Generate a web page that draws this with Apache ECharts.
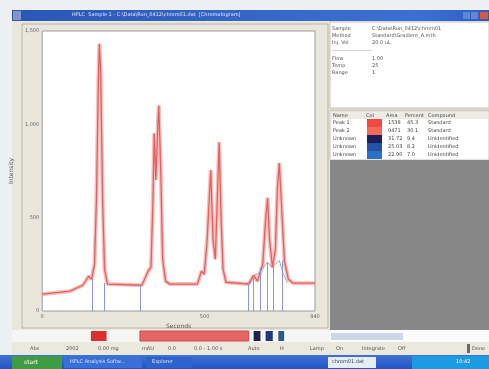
<!DOCTYPE html>
<html>
<head>
<meta charset="utf-8">
<script src="https://cdn.jsdelivr.net/npm/echarts@6/dist/echarts.min.js"></script>
<style>
  html, body { margin: 0; padding: 0; background: #e9e6dc; }
  #chart { width: 489px; height: 369px; }
</style>
</head>
<body>
<div id="chart"></div>
<script>
// retention time (s) and detector response of the main trace
const RED_T = [0, 85, 125, 143, 152, 161, 167, 173, 176, 180, 186, 192, 201, 307, 326, 335, 341, 345, 350, 356,
  359, 365, 371, 380, 393, 478, 490, 499, 508, 519, 526, 533, 539, 545, 551, 557, 566, 636, 651, 663,
  679, 688, 694, 700, 709, 718, 724, 730, 736, 746, 758, 773, 840]
const RED_V = [90, 106, 138, 186, 170, 250, 596, 1234, 1431, 1287, 596, 223, 144, 138, 213, 234, 596, 952, 702, 995,
  1101, 755, 277, 160, 144, 144, 213, 197, 383, 755, 383, 277, 596, 904, 489, 223, 154, 144, 191, 160,
  250, 489, 606, 383, 234, 330, 649, 793, 596, 266, 170, 149, 149]

// secondary (blue) trace around the last peak group
const BLUE_T = [625, 640, 651, 665, 680, 694, 705, 718, 730, 742, 755]
const BLUE_V = [140, 160, 190, 200, 230, 262, 235, 250, 272, 200, 150]

// integration drop lines
const DROP_T = [155, 192, 301, 633, 651, 672, 694, 712, 739]
const DROP_TOP = [170, 150, 140, 150, 190, 230, 260, 240, 270]

// peak-window strip under the plot: [start, end]
const WINDOWS = [[150, 198], [301, 636], [651, 672], [688, 710], [727, 745]]
const WINDOW_COLORS = ['#e02c2c', '#e86464', '#1c2250', '#20387e', '#2c5c8e']

// peak table
const TABLE_NAMES = ['Peak 1', 'Peak 2', 'Unknown', 'Unknown', 'Unknown']
const TABLE_AREA = ['1538', '9471', '31.72', '25.03', '22.90']
const TABLE_PCT = ['45.3', '30.1', '9.4', '8.2', '7.0']
const TABLE_COLORS = ['#f04a40', '#f26a5a', '#1a1f5c', '#2352a6', '#2f70c4']

const X_MIN = 0
const X_MAX = 840
const Y_MAX = 1500

const chart = echarts.init(document.getElementById('chart'))

const redData = RED_T.map((t, i) => [t, RED_V[i]])
const blueData = BLUE_T.map((t, i) => [t, BLUE_V[i]])
const drops = DROP_T.map((t, i) => [{ coord: [t, 0] }, { coord: [t, DROP_TOP[i]] }])

const FONT = 'DejaVu Sans'
const tiny = (x, y, text, color, size) => ({
  type: 'text', left: x, top: y, z: 20, silent: true,
  style: { text, fill: color || '#6a6a6a', fontSize: size || 5, fontFamily: FONT }
})
const box = (x, y, w, h, fill, z, stroke) => ({
  type: 'rect', z: z === undefined ? -5 : z, silent: true,
  shape: { x, y, width: w, height: h },
  style: { fill, stroke: stroke || null, lineWidth: stroke ? 1 : 0 }
})

const chrome = [
  // desktop + window body
  box(0, 0, 489, 369, '#eef1f3', -10),
  box(12, 10, 477, 347, '#e9e6dc', -9),
  // title bar
  {
    type: 'rect', z: -8, silent: true,
    shape: { x: 12, y: 10, width: 477, height: 11 },
    style: {
      fill: new echarts.graphic.LinearGradient(0, 0, 1, 0, [
        { offset: 0, color: '#2a57b8' }, { offset: 0.85, color: '#3d70d4' }, { offset: 1, color: '#2b5cc4' }
      ])
    }
  },
  box(13, 11, 8, 9, '#7f98c8', -7),
  box(463, 12, 7, 7, '#5f86d8', -7),
  box(471, 12, 7, 7, '#5f86d8', -7),
  box(480, 12, 8, 7, '#d9583a', -7),
  tiny(72, 12.5, 'HPLC  Sample 1 - C:\\Data\\Run_0412\\chrom01.dat  [Chromatogram]', '#dfe7f7', 5),
  // plot panel frame
  box(22, 24, 306, 304, '#e9e6dc', -6, '#b9b4a6'),
  // right info panel
  box(330, 22, 159, 86, '#ffffff', -6, '#c9c5b8'),
  tiny(332, 26, 'Sample', '#555'), tiny(372, 26, 'C:\\Data\\Run_0412\\chrom01', '#555'),
  tiny(332, 33, 'Method', '#555'), tiny(372, 33, 'Standard\\Gradient_A.mth', '#555'),
  tiny(332, 40, 'Inj. Vol', '#555'), tiny(372, 40, '20.0 uL', '#555'),
  box(332, 50, 40, 0.6, '#b0b0b0', -4),
  tiny(332, 56, 'Flow', '#555'), tiny(372, 56, '1.00', '#555'),
  tiny(332, 63, 'Temp', '#555'), tiny(372, 63, '25', '#555'),
  tiny(332, 70, 'Range', '#555'), tiny(372, 70, '1', '#555'),
  box(330, 108, 159, 3, '#d8d4c8', -6),
  // peak table
  box(330, 111, 159, 49, '#ffffff', -6, '#c9c5b8'),
  box(331, 112, 157, 7, '#ecebe6', -5),
  tiny(333, 113, 'Name', '#444'), tiny(366, 113, 'Col', '#444'), tiny(386, 113, 'Area', '#444'),
  tiny(405, 113, 'Percent', '#444'), tiny(428, 113, 'Compound', '#444'),
  // grey empty panel
  box(330, 160, 159, 170, '#878787', -6),
  // strip under the plot
  box(12, 330, 318, 12, '#f6f6f4', -6),
  box(330, 330, 159, 12, '#fbfbfb', -6),
  box(331, 333, 72, 7, '#cdd7e8', -5),
  // toolbar
  box(12, 342, 477, 13, '#ebe8de', -6),
  tiny(30, 346, 'Abs', '#555'), tiny(66, 346, '2002', '#555'), tiny(98, 346, '0.00 mg', '#555'),
  tiny(142, 346, 'mAU', '#555'), tiny(168, 346, '0.0', '#555'), tiny(194, 346, '0.0 - 1.00 s', '#555'),
  tiny(248, 346, 'Auto', '#555'), tiny(280, 346, 'H', '#555'), tiny(310, 346, 'Lamp', '#555'),
  tiny(336, 346, 'On', '#555'), tiny(362, 346, 'Integrate', '#555'), tiny(398, 346, 'Off', '#555'),
  box(467, 344, 3, 9, '#6a6a6a', -5), tiny(472, 346, 'Done', '#555'),
  // taskbar
  {
    type: 'rect', z: -6, silent: true,
    shape: { x: 0, y: 355, width: 489, height: 14 },
    style: {
      fill: new echarts.graphic.LinearGradient(0, 0, 0, 1, [
        { offset: 0, color: '#3d74d8' }, { offset: 1, color: '#2453c0' }
      ])
    }
  },
  box(12, 356, 50, 13, '#3f9c45', -5),
  tiny(24, 359, 'start', '#ffffff', 6),
  box(64, 357, 78, 11, '#3a6fd8', -5),
  tiny(70, 359.5, 'HPLC Analysis Softw...', '#dbe6fb'),
  box(146, 357, 46, 11, '#2f63cc', -5),
  tiny(152, 359.5, 'Explorer', '#dbe6fb'),
  box(328, 357, 48, 11, '#e6ecf6', -5),
  tiny(332, 359.5, 'chrom01.dat', '#345'),
  box(412, 356, 77, 13, '#1d9be2', -5),
  tiny(456, 359.5, '10:42', '#ffffff')
]

TABLE_NAMES.forEach((name, i) => {
  const y = 120 + i * 8
  chrome.push(tiny(333, y, name, '#444'))
  chrome.push(box(367, y - 1, 15, 8, TABLE_COLORS[i], -4))
  chrome.push(tiny(388, y, TABLE_AREA[i], '#444'))
  chrome.push(tiny(407, y, TABLE_PCT[i], '#444'))
  chrome.push(tiny(428, y, name === 'Unknown' ? 'Unidentified' : 'Standard', '#444'))
})

const option = {
  animation: false,
  textStyle: { fontFamily: FONT },
  grid: {
    left: 39, top: 31, width: 276, height: 280,
    show: true, backgroundColor: '#fefefe', borderColor: '#9c9c9c', borderWidth: 1
  },
  xAxis: {
    type: 'value', min: X_MIN, max: X_MAX, interval: 500,
    name: 'Seconds', nameLocation: 'middle', nameGap: 10,
    nameTextStyle: { fontSize: 6, color: '#555' },
    axisLine: { show: false }, axisTick: { show: false }, splitLine: { show: false },
    axisLabel: { fontSize: 5, color: '#666', margin: 3, showMaxLabel: true, showMinLabel: true }
  },
  yAxis: {
    type: 'value', min: 0, max: Y_MAX, interval: 500,
    name: 'Intensity', nameLocation: 'middle', nameGap: 17, nameRotate: 90,
    nameTextStyle: { fontSize: 6, color: '#555' },
    axisLine: { show: false }, axisTick: { show: false }, splitLine: { show: false },
    axisLabel: { fontSize: 5, color: '#666', margin: 3 }
  },
  series: [
    {
      type: 'line', data: redData, symbol: 'none', silent: true, z: 3,
      lineStyle: { color: 'rgba(240,140,135,0.55)', width: 4 }
    },
    {
      type: 'line', data: redData, symbol: 'none', silent: true, z: 4,
      lineStyle: { color: '#e4605f', width: 1.3 }
    },
    {
      type: 'line', data: blueData, symbol: 'none', silent: true, z: 2,
      lineStyle: { color: '#a3a6df', width: 1 },
      markLine: {
        silent: true, symbol: 'none', label: { show: false },
        lineStyle: { color: '#8f95d8', width: 1, type: 'solid' },
        data: drops
      }
    }
  ],
  graphic: chrome
}

chart.setOption(option)

// peak-window markers under the plot, placed with the chart's own x scale
const strip = WINDOWS.map((w, i) => {
  const x0 = chart.convertToPixel({ gridIndex: 0 }, [w[0], 0])[0]
  const x1 = chart.convertToPixel({ gridIndex: 0 }, [w[1], 0])[0]
  return {
    type: 'rect', z: 10, silent: true,
    shape: { x: x0, y: 331, width: Math.max(5, x1 - x0), height: 10 },
    style: { fill: WINDOW_COLORS[i], stroke: i === 1 ? '#c84848' : null, lineWidth: 1 }
  }
})
chart.setOption({ graphic: chrome.concat(strip) })
</script>
</body>
</html>
